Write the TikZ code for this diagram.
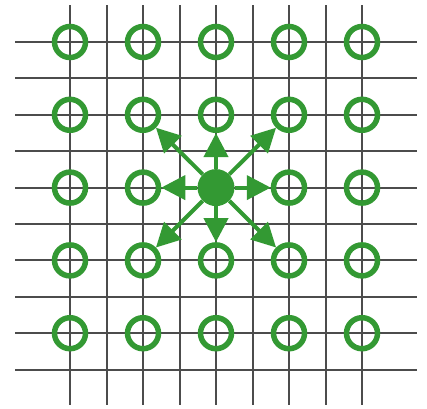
\documentclass[tikz,border=0pt]{standalone}
\usetikzlibrary{arrows.meta, positioning}
\definecolor{dotgreen}{RGB}{51,153,51}

\begin{document}
\begin{tikzpicture}[x=1pt, y=-1pt,
  gridline/.style={draw=black!70, line width=2pt},
  ring/.style={circle, draw=dotgreen, line width=5.5pt, minimum size=31pt, inner sep=0pt},
  source/.style={circle, fill=dotgreen, minimum size=37pt, inner sep=0pt},
  arrow/.style={draw=dotgreen, line width=4pt, -{Triangle[length=24pt, width=24pt]}}]

\useasboundingbox (0,0) rectangle (427,408);

% grid
\foreach \i in {0,...,8}
  \draw[gridline] (70+36.5*\i, 5) -- (70+36.5*\i, 405);
\foreach \j in {0,...,9}
  \draw[gridline] (15, 42+36.4*\j) -- (417, 42+36.4*\j);

% rings
\foreach \i in {0,...,4}
  \foreach \j in {0,...,4} {
    \ifnum\i\j=22 \else
      \node[ring] (r\i\j) at (70+73*\i, 42+72.8*\j) {};
    \fi
  }

\node[source] (src) at (216, 187.6) {};

\foreach \i/\j in {1/1,2/1,3/1,1/2,3/2,1/3,2/3,3/3}
  \draw[arrow] (src) -- (r\i\j);

\end{tikzpicture}
\end{document}
